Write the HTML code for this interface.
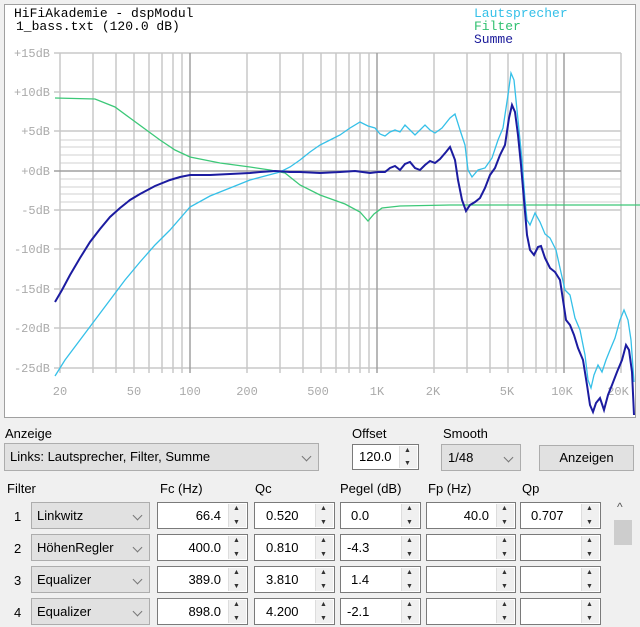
<!DOCTYPE html>
<html><head><meta charset="utf-8"><style>
body{margin:0;width:640px;height:627px;background:#f0f0f0;font-family:"Liberation Sans",sans-serif;font-size:13px;position:relative;overflow:hidden}
.a{position:absolute}
.box{position:absolute;background:#e1e1e1;border:1px solid #adadad;box-sizing:border-box}
.in{position:absolute;background:#fff;border:1px solid #7a7a7a;box-sizing:border-box}
.sp{position:absolute;right:1px;top:1px;width:17px;bottom:1px;background:#f0f0f0;border-left:1px solid #ddd}
.sp:before{content:"▲";position:absolute;top:1px;left:4px;font-size:7px;color:#333}
.sp:after{content:"▼";position:absolute;bottom:1px;left:4px;font-size:7px;color:#333}
.chev{position:absolute;right:8px;top:9px;width:6px;height:6px;border-right:1px solid #777;border-bottom:1px solid #777;transform:rotate(45deg)}
.t{position:absolute;top:5px}
</style></head><body>
<svg class="a" style="left:0;top:0" width="640" height="420">
<rect x="4.5" y="4.5" width="631" height="413" fill="#fff" stroke="#a0a0a0"/>
<g stroke="#d0d0d0" stroke-width="1">
<line x1="60" y1="140" x2="621" y2="140"/><line x1="60" y1="147" x2="621" y2="147"/><line x1="60" y1="155" x2="621" y2="155"/><line x1="60" y1="163" x2="621" y2="163"/>
<line x1="60" y1="179" x2="621" y2="179"/><line x1="60" y1="187" x2="621" y2="187"/><line x1="60" y1="194" x2="621" y2="194"/><line x1="60" y1="202" x2="621" y2="202"/>
</g>
<g stroke="#c8c8c8" stroke-width="1.5">
<line x1="93" y1="53" x2="93" y2="373"/><line x1="116" y1="53" x2="116" y2="373"/><line x1="134" y1="53" x2="134" y2="373"/><line x1="149" y1="53" x2="149" y2="373"/><line x1="162" y1="53" x2="162" y2="373"/><line x1="173" y1="53" x2="173" y2="373"/><line x1="182" y1="53" x2="182" y2="373"/>
<line x1="247" y1="53" x2="247" y2="373"/><line x1="280" y1="53" x2="280" y2="373"/><line x1="303" y1="53" x2="303" y2="373"/><line x1="321" y1="53" x2="321" y2="373"/><line x1="336" y1="53" x2="336" y2="373"/><line x1="349" y1="53" x2="349" y2="373"/><line x1="360" y1="53" x2="360" y2="373"/><line x1="369" y1="53" x2="369" y2="373"/>
<line x1="434" y1="53" x2="434" y2="373"/><line x1="467" y1="53" x2="467" y2="373"/><line x1="490" y1="53" x2="490" y2="373"/><line x1="508" y1="53" x2="508" y2="373"/><line x1="523" y1="53" x2="523" y2="373"/><line x1="536" y1="53" x2="536" y2="373"/><line x1="547" y1="53" x2="547" y2="373"/><line x1="556" y1="53" x2="556" y2="373"/>
<line x1="621" y1="53" x2="621" y2="373"/><line x1="60" y1="53" x2="60" y2="373"/>
<line x1="54" y1="53" x2="621" y2="53"/><line x1="54" y1="92" x2="621" y2="92"/><line x1="54" y1="131" x2="621" y2="131"/><line x1="54" y1="210" x2="621" y2="210"/><line x1="54" y1="249" x2="621" y2="249"/><line x1="54" y1="289" x2="621" y2="289"/><line x1="54" y1="328" x2="621" y2="328"/><line x1="54" y1="368" x2="621" y2="368"/>
</g>
<g stroke="#a0a0a0" stroke-width="1.5">
<line x1="190" y1="53" x2="190" y2="373"/><line x1="377" y1="53" x2="377" y2="373"/><line x1="564" y1="53" x2="564" y2="373"/><line x1="54" y1="171" x2="621" y2="171"/>
</g>
<g font-family="Liberation Mono,monospace" font-size="12" fill="#aaa" text-anchor="end">
<text x="50" y="57">+15dB</text><text x="50" y="96">+10dB</text><text x="50" y="135">+5dB</text><text x="50" y="175">+0dB</text><text x="50" y="214">-5dB</text><text x="50" y="253">-10dB</text><text x="50" y="293">-15dB</text><text x="50" y="332">-20dB</text><text x="50" y="372">-25dB</text>
</g>
<g font-family="Liberation Mono,monospace" font-size="12" fill="#aaa" text-anchor="middle">
<text x="60" y="395">20</text><text x="134" y="395">50</text><text x="190" y="395">100</text><text x="247" y="395">200</text><text x="318" y="395">500</text><text x="377" y="395">1K</text><text x="433" y="395">2K</text><text x="507" y="395">5K</text><text x="562" y="395">10K</text><text x="618" y="395">20K</text>
</g>
<g font-family="Liberation Mono,monospace" font-size="13">
<text x="14" y="17" fill="#000">HiFiAkademie - dspModul</text>
<text x="16" y="30" fill="#000">1_bass.txt  (120.0 dB)</text>
<text x="474" y="17" fill="#35c0e8">Lautsprecher</text>
<text x="474" y="30" fill="#30c070">Filter</text>
<text x="474" y="43" fill="#1a1a9a">Summe</text>
</g>
<polyline fill="none" stroke="#3cc878" stroke-width="1.3" points="55,98 95,99 115,107 130,118 145,129 160,140 175,150 190,157 220,163 250,167 270,170 285,173 300,185 320,195 345,204 360,212 368,221 374,214 382,208 400,206 450,205 640,205"/>
<polyline fill="none" stroke="#35c0e8" stroke-width="1.3" points="55,376 65,360 80,340 95,320 110,300 125,280 140,262 155,245 170,230 190,207 210,196 230,188 250,180 265,176 280,172 290,167 300,160 310,152 320,145 330,140 340,135 350,128 360,122 368,126 375,128 380,134 385,136 390,132 395,130 400,132 405,125 410,130 415,135 420,130 425,125 430,130 435,133 442,128 450,118 455,114 460,130 465,145 468,170 472,177 478,170 485,168 492,158 498,140 503,128 508,95 511,73 514,80 518,120 522,160 525,200 527,220 530,225 535,213 540,222 545,234 550,238 556,250 560,268 565,290 570,295 575,318 580,330 585,355 588,380 591,388 594,375 598,365 602,372 606,360 610,350 615,338 620,320 624,310 628,320 631,340 634,382"/>
<polyline fill="none" stroke="#1c1ca0" stroke-width="2" points="55,302 62,290 70,275 80,258 90,242 100,229 110,217 120,208 130,200 140,194 155,186 170,180 180,177 190,175 210,175 230,174 250,173 260,172 275,171 290,172 300,172 320,173 340,172 355,171 370,173 378,172 385,172 390,168 395,166 400,170 405,164 410,162 415,168 420,170 425,165 430,161 435,163 440,159 446,152 450,147 455,160 458,180 462,200 466,211 470,205 475,202 480,198 485,188 490,175 495,168 500,155 505,145 509,118 512,105 515,112 518,135 521,165 524,200 527,235 530,250 534,255 538,247 541,246 545,258 550,268 555,272 560,280 563,300 566,320 570,325 574,335 578,348 583,360 587,385 590,405 593,412 596,403 600,398 604,410 608,395 612,385 617,372 622,360 626,345 629,350 632,372 634,415"/>
</svg>
<div class="a" style="left:5px;top:426px">Anzeige</div>
<div class="box" style="left:4px;top:443px;width:315px;height:28px"><span class="t" style="left:5px">Links: Lautsprecher, Filter, Summe</span><span class="chev"></span></div>
<div class="a" style="left:352px;top:426px">Offset</div>
<div class="in" style="left:352px;top:444px;width:67px;height:26px"><span class="t" style="left:6px;top:4px">120.0</span><div class="sp"></div></div>
<div class="a" style="left:443px;top:426px">Smooth</div>
<div class="box" style="left:441px;top:444px;width:80px;height:27px"><span class="t" style="left:6px">1/48</span><span class="chev"></span></div>
<div class="box" style="left:539px;top:445px;width:95px;height:26px;text-align:center;line-height:24px">Anzeigen</div>
<div class="a" style="left:7px;top:481px">Filter</div>
<div class="a" style="left:160px;top:481px">Fc (Hz)</div>
<div class="a" style="left:255px;top:481px">Qc</div>
<div class="a" style="left:340px;top:481px">Pegel (dB)</div>
<div class="a" style="left:428px;top:481px">Fp (Hz)</div>
<div class="a" style="left:522px;top:481px">Qp</div>

<div class="a" style="left:14px;top:509px">1</div>
<div class="box" style="left:31px;top:502px;width:119px;height:27px"><span class="t" style="left:5px">Linkwitz</span><span class="chev"></span></div>
<div class="in" style="left:157px;top:502px;width:91px;height:27px"><span class="t" style="right:26px;top:5px">66.4</span><div class="sp"></div></div>
<div class="in" style="left:254px;top:502px;width:81px;height:27px"><span class="t" style="left:11px;top:5px">0.520</span><div class="sp"></div></div>
<div class="in" style="left:340px;top:502px;width:81px;height:27px"><span class="t" style="left:10px;top:5px">0.0</span><div class="sp"></div></div>
<div class="in" style="left:426px;top:502px;width:90px;height:27px"><span class="t" style="right:26px;top:5px">40.0</span><div class="sp"></div></div>
<div class="in" style="left:520px;top:502px;width:81px;height:27px"><span class="t" style="left:10px;top:5px">0.707</span><div class="sp"></div></div>

<div class="a" style="left:14px;top:541px">2</div>
<div class="box" style="left:31px;top:534px;width:119px;height:27px"><span class="t" style="left:5px">HöhenRegler</span><span class="chev"></span></div>
<div class="in" style="left:157px;top:534px;width:91px;height:27px"><span class="t" style="right:26px;top:5px">400.0</span><div class="sp"></div></div>
<div class="in" style="left:254px;top:534px;width:81px;height:27px"><span class="t" style="left:11px;top:5px">0.810</span><div class="sp"></div></div>
<div class="in" style="left:340px;top:534px;width:81px;height:27px"><span class="t" style="left:6px;top:5px">-4.3</span><div class="sp"></div></div>
<div class="in" style="left:426px;top:534px;width:90px;height:27px"><div class="sp"></div></div>
<div class="in" style="left:520px;top:534px;width:81px;height:27px"><div class="sp"></div></div>

<div class="a" style="left:14px;top:573px">3</div>
<div class="box" style="left:31px;top:566px;width:119px;height:27px"><span class="t" style="left:5px">Equalizer</span><span class="chev"></span></div>
<div class="in" style="left:157px;top:566px;width:91px;height:27px"><span class="t" style="right:26px;top:5px">389.0</span><div class="sp"></div></div>
<div class="in" style="left:254px;top:566px;width:81px;height:27px"><span class="t" style="left:11px;top:5px">3.810</span><div class="sp"></div></div>
<div class="in" style="left:340px;top:566px;width:81px;height:27px"><span class="t" style="left:10px;top:5px">1.4</span><div class="sp"></div></div>
<div class="in" style="left:426px;top:566px;width:90px;height:27px"><div class="sp"></div></div>
<div class="in" style="left:520px;top:566px;width:81px;height:27px"><div class="sp"></div></div>

<div class="a" style="left:14px;top:605px">4</div>
<div class="box" style="left:31px;top:598px;width:119px;height:27px"><span class="t" style="left:5px">Equalizer</span><span class="chev"></span></div>
<div class="in" style="left:157px;top:598px;width:91px;height:27px"><span class="t" style="right:26px;top:5px">898.0</span><div class="sp"></div></div>
<div class="in" style="left:254px;top:598px;width:81px;height:27px"><span class="t" style="left:11px;top:5px">4.200</span><div class="sp"></div></div>
<div class="in" style="left:340px;top:598px;width:81px;height:27px"><span class="t" style="left:6px;top:5px">-2.1</span><div class="sp"></div></div>
<div class="in" style="left:426px;top:598px;width:90px;height:27px"><div class="sp"></div></div>
<div class="in" style="left:520px;top:598px;width:81px;height:27px"><div class="sp"></div></div>

<div class="a" style="left:612px;top:498px;width:22px;height:129px;background:#f0f0f0"></div>
<div class="a" style="left:617px;top:500px;font-size:12px;color:#555">^</div>
<div class="a" style="left:614px;top:520px;width:18px;height:25px;background:#cdcdcd"></div>
</body></html>
